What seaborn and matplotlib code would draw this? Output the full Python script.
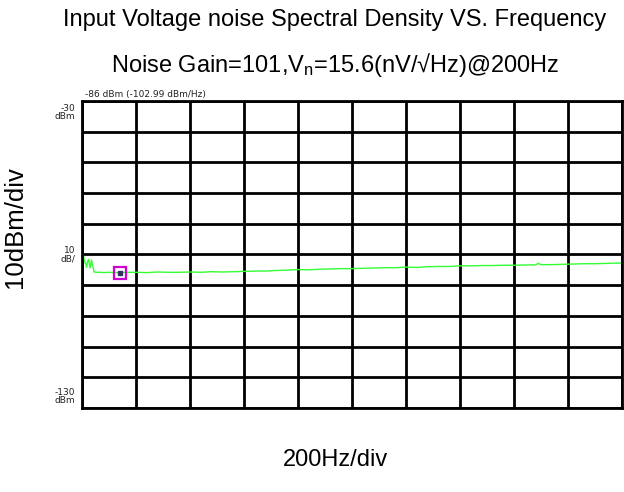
import numpy as np
import pandas as pd
import seaborn as sns
import matplotlib.pyplot as plt

# trace (Hz, dBm)
freq = [5, 10, 14, 17, 20, 24, 27, 30, 35, 40, 45, 55,
        70, 80, 100, 120, 140, 160, 200, 240, 280, 320, 360, 400, 440, 480,
        520, 560, 600, 640, 680, 720, 760, 800, 840, 880, 920, 960, 1000,
        1040, 1080, 1120, 1160, 1200, 1240, 1280, 1320, 1360, 1400, 1440,
        1480, 1520, 1560, 1600, 1640, 1680, 1690, 1700, 1740, 1780, 1820,
        1860, 1900, 1940, 1980, 2000]
level = [-80.2, -82.6, -83.0, -84.2, -82.5, -81.6, -83.0, -84.4, -81.8, -83.8,
         -85.7, -85.8,
         -85.8, -85.9, -85.8, -85.9, -85.9, -85.8, -85.8, -85.9, -85.7, -85.8,
         -85.8, -85.7, -85.8, -85.6, -85.7, -85.6, -85.5, -85.4, -85.4, -85.2,
         -85.1, -84.9, -85.0, -84.8, -84.7, -84.6, -84.6, -84.5, -84.4, -84.3,
         -84.3, -84.1, -84.2, -84.0, -83.9, -83.9, -83.7, -83.7, -83.6, -83.6,
         -83.5, -83.5, -83.4, -83.4, -82.9, -83.3, -83.3, -83.2, -83.1, -83.0,
         -83.0, -82.9, -82.8, -82.8]
marker_freq = 140
marker_level = -85.9

title1 = "Input Voltage noise Spectral Density VS. Frequency"
title2 = "Noise Gain=101,V$_\\mathregular{n}$=15.6(nV/\u221aHz)@200Hz"
marker_text = "-86 dBm (-102.99 dBm/Hz)"

df = pd.DataFrame({"freq": freq, "level": level})

sns.set_style("white")
plt.rcParams['font.family'] = ['Liberation Sans', 'DejaVu Sans']
plt.rcParams['mathtext.default'] = 'regular'
plt.rcParams['text.color'] = 'black'

fig = plt.figure(figsize=(6.24, 4.92), dpi=100)
ax = fig.add_axes([82 / 624, 1 - 408 / 492, 540 / 624, 307 / 492])

sns.lineplot(data=df, x="freq", y="level", ax=ax, color="#33ff33", linewidth=1.0)
ax.plot([marker_freq], [marker_level], marker="s", ms=8, mfc="none",
        mec="#d000d0", mew=1.6, zorder=5)
ax.plot([marker_freq], [marker_level], marker="s", ms=2.5, color="#333366", zorder=6)

ax.set_xlim(0, 2000)
ax.set_ylim(-130, -30)
ax.set_xticks(np.arange(0, 2001, 200))
ax.set_yticks(np.arange(-130, -29, 10))
ax.grid(True, color="black", linewidth=2)
ax.tick_params(length=0, labelleft=False, labelbottom=False)
for s in ax.spines.values():
    s.set_color("black")
    s.set_linewidth(2)
ax.set_xlabel("")
ax.set_ylabel("")

small = dict(family="DejaVu Sans", fontsize=6.5, color="#222222")
ax.text(-0.012, 0.99, "-30\ndBm", transform=ax.transAxes, ha="right",
        va="top", linespacing=0.9, **small)
ax.text(-0.012, 0.5, "10\ndB/", transform=ax.transAxes, ha="right",
        va="center", linespacing=0.9, **small)
ax.text(-0.012, 0.01, "-130\ndBm", transform=ax.transAxes, ha="right",
        va="bottom", linespacing=0.9, **small)
ax.text(0.006, 1.008, marker_text, transform=ax.transAxes, ha="left",
        va="bottom", **small)

fig.text(335 / 624, 1 - 26 / 492, title1, ha="center", va="baseline", fontsize=17)
fig.text(335 / 624, 1 - 72 / 492, title2, ha="center", va="baseline", fontsize=17)
fig.text(15 / 624, 1 - 227 / 492, "10dBm/div", ha="center", va="center",
         rotation=90, fontsize=18.5)
fig.text(336 / 624, 1 - 466 / 492, "200Hz/div", ha="center", va="baseline",
         fontsize=17)

fig.savefig("out.png", dpi=100)
